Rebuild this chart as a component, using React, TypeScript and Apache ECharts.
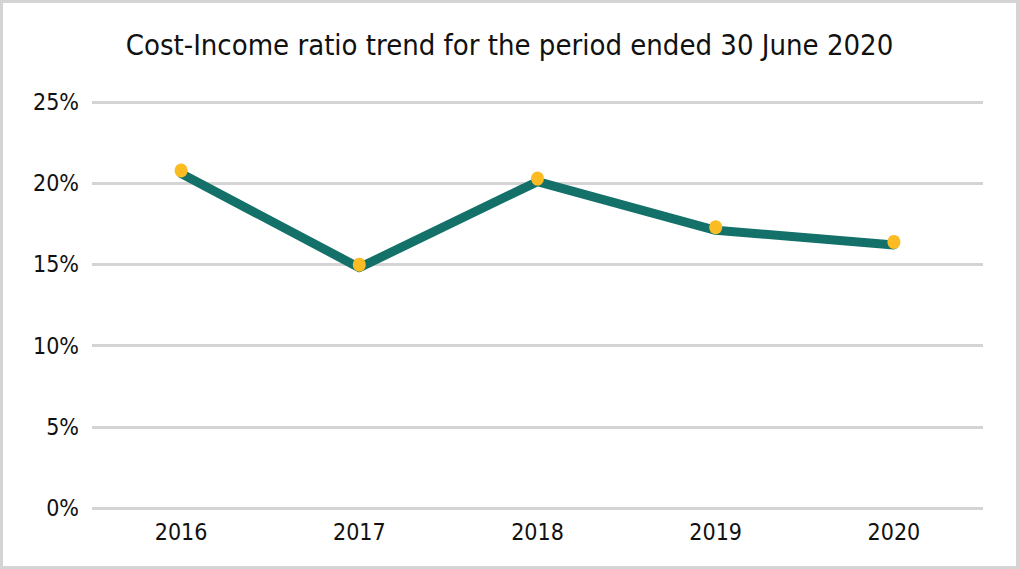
import React, { useEffect, useRef } from "react";
import * as echarts from "echarts";

const categories = ["2016", "2017", "2018", "2019", "2020"];
const ratioValues = [20.6, 14.8, 20.1, 17.1, 16.2];
const yTicks = [0, 5, 10, 15, 20, 25];
const titleText = "Cost-Income ratio trend for the period ended 30 June 2020";

const FONT = "'DejaVu Sans Condensed', 'DejaVu Sans', sans-serif";

export default function App() {
  const ref = useRef<HTMLDivElement>(null);
  useEffect(() => {
    if (!ref.current) return;
    const chart = echarts.init(ref.current, null, { renderer: "svg" });
    chart.setOption({
      animation: false,
      backgroundColor: "#ffffff",
      title: {
        text: titleText,
        left: "center",
        top: 22,
        textStyle: { fontFamily: FONT, fontSize: 29, fontWeight: "normal", color: "#111111" },
      },
      grid: { left: 89, right: 33, top: 99, bottom: 58, containLabel: false },
      xAxis: {
        type: "category",
        data: categories,
        boundaryGap: true,
        axisLine: { show: false },
        axisTick: { show: false },
        axisLabel: { fontFamily: FONT, fontSize: 23, color: "#111111", margin: 12 },
      },
      yAxis: {
        type: "value",
        min: yTicks[0],
        max: yTicks[yTicks.length - 1],
        interval: 5,
        axisLine: { show: false },
        axisTick: { show: false },
        splitLine: { lineStyle: { color: "#d4d4d4", width: 3 } },
        axisLabel: {
          fontFamily: FONT,
          fontSize: 23,
          color: "#111111",
          margin: 13,
          formatter: (v: number) => `${v}%`,
        },
      },
      series: [
        {
          type: "line",
          data: ratioValues,
          lineStyle: { color: "#13716a", width: 9, cap: "round", join: "round" },
          itemStyle: { color: "#fbbb22" },
          symbol: "circle",
          symbolSize: [13, 14],
          symbolOffset: [0, -3],
          showSymbol: true,
        },
      ],
    });
    return () => chart.dispose();
  }, []);
  return (
    <div
      style={{
        position: "absolute",
        left: 0,
        top: 0,
        width: 1019,
        height: 569,
        boxSizing: "border-box",
        border: "3px solid #d4d4d4",
        background: "#fff",
      }}
    >
      <div ref={ref} style={{ width: 1013, height: 563 }} />
    </div>
  );
}
